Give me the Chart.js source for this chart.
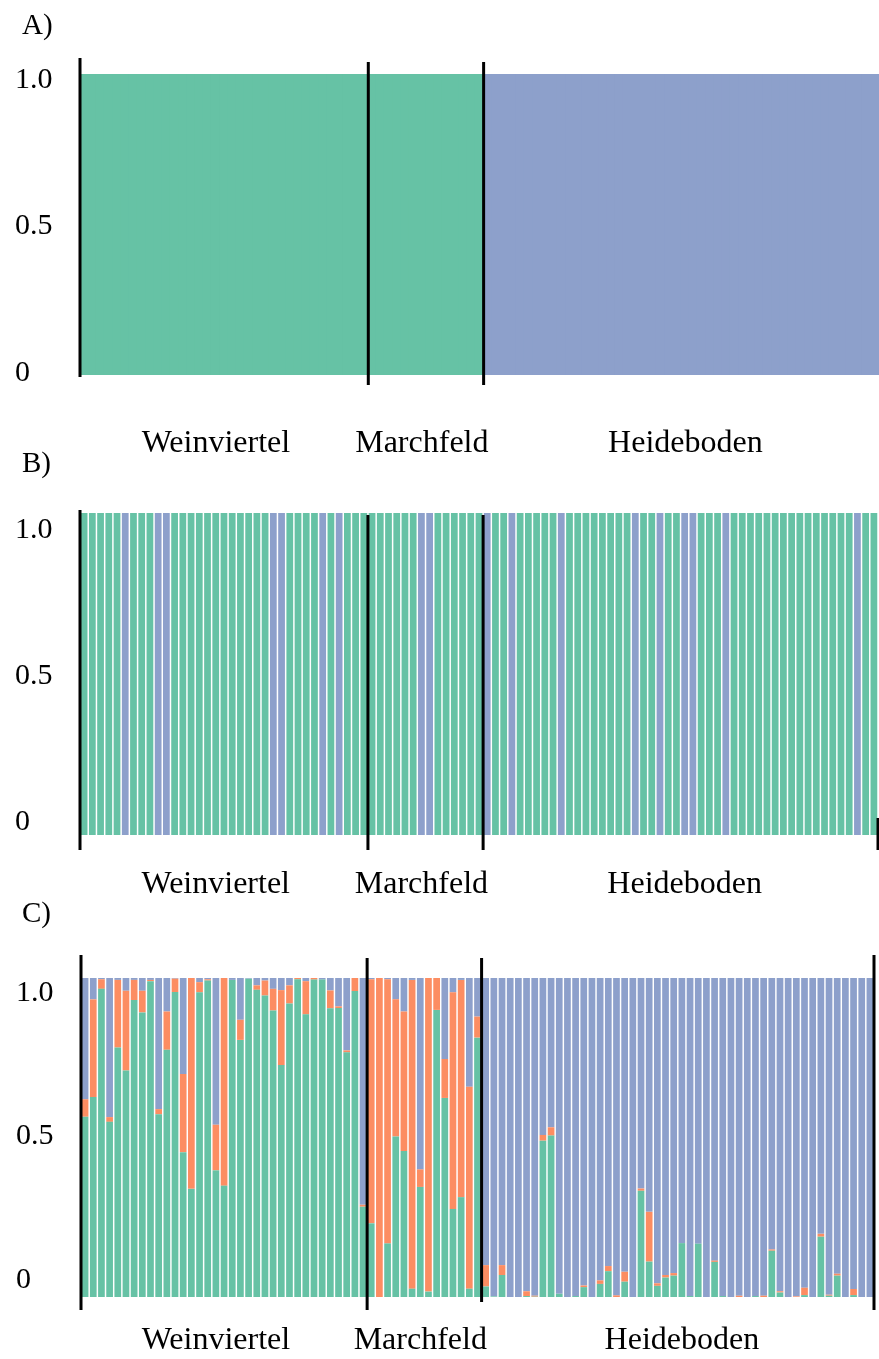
<!DOCTYPE html>
<html>
<head>
<meta charset="utf-8">
<script src="https://cdn.jsdelivr.net/npm/chart.js@4.4.0/dist/chart.umd.min.js"></script>
<style>
  body { margin: 0; background: #fff; width: 879px; height: 1359px; position: relative; overflow: hidden; font-family: "Liberation Serif", serif; }
  .panel { position: absolute; left: 0; }
  .tag { position: absolute; left: 22px; font-size: 29px; line-height: 1; z-index: 2; }
</style>
</head>
<body>
<div class="tag" style="top:10px">A)</div>
<div class="tag" style="top:448px">B)</div>
<div class="tag" style="top:898px">C)</div>
<div class="panel" style="top:0"><canvas id="chartA" width="879" height="470"></canvas></div>
<div class="panel" style="top:470px"><canvas id="chartB" width="879" height="440"></canvas></div>
<div class="panel" style="top:910px"><canvas id="chartC" width="879" height="449"></canvas></div>
<script>
// populations and how many individuals each has
const groups = ["Weinviertel", "Marchfeld", "Heideboden"];
const groupSizes = [35, 14, 48];
const groupLabelAt = [16, 41, 73];   // which bar carries the group name
const yTicks = [0, 0.5, 1];

// A) K=2, population level
const aGreen = [
  1,1,1,1,1,1,1,1,1,1,1,1,1,1,1,1,1,1,1,1,1,1,1,1,1,1,1,1,1,1,1,1,1,1,1,
  1,1,1,1,1,1,1,1,1,1,1,1,1,1,
  0,0,0,0,0,0,0,0,0,0,0,0,0,0,0,0,0,0,0,0,0,0,0,0,0,0,0,0,0,0,0,0,0,0,0,0,0,0,0,0,0,0,0,0,0,0,0,0
];
const aBlue = [
  0,0,0,0,0,0,0,0,0,0,0,0,0,0,0,0,0,0,0,0,0,0,0,0,0,0,0,0,0,0,0,0,0,0,0,
  0,0,0,0,0,0,0,0,0,0,0,0,0,0,
  1,1,1,1,1,1,1,1,1,1,1,1,1,1,1,1,1,1,1,1,1,1,1,1,1,1,1,1,1,1,1,1,1,1,1,1,1,1,1,1,1,1,1,1,1,1,1,1
];

// B) K=2, individuals
const bGreen = [
  1,1,1,1,1,0,1,1,1,0,0,1,1,1,1,1,1,1,1,1,1,1,1,0,0,1,1,1,1,0,1,0,1,1,1,
  1,1,1,1,1,1,0,0,1,1,1,1,1,1,
  0,1,1,0,1,1,1,1,1,0,1,1,1,1,1,1,1,1,0,1,1,0,1,1,0,0,1,1,1,0,1,1,1,1,1,1,1,1,1,1,1,1,1,1,1,0,1,1
];
const bBlue = [
  0,0,0,0,0,1,0,0,0,1,1,0,0,0,0,0,0,0,0,0,0,0,0,1,1,0,0,0,0,1,0,1,0,0,0,
  0,0,0,0,0,0,1,1,0,0,0,0,0,0,
  1,0,0,1,0,0,0,0,0,1,0,0,0,0,0,0,0,0,1,0,0,1,0,0,1,1,0,0,0,1,0,0,0,0,0,0,0,0,0,0,0,0,0,0,0,1,0,0
];

// C) K=3, individuals
const cGreen = [
  .565,.627,.966,.549,.782,.710,.931,.892,.990,.573,.775,.956,.454,.339,.955,.992,.397,.349,
  .994,.806,.998,.963,.945,.898,.727,.920,.996,.886,.995,.995,.905,.906,.767,.959,.283,
  .231,0,.168,.503,.458,.026,.345,.017,.900,.624,.276,.313,.026,.813,
  .033,.002,.069,0,0,.003,.001,.490,.506,.010,0,.003,.031,0,.041,.081,
  0,.048,0,.333,.111,.035,.061,.067,.169,.003,.167,0,.110,.003,0,0,
  0,.003,0,.145,.014,0,0,.006,0,.189,.004,.067,0,.006,0,0
];
const cOrange = [
  .055,.306,.030,.015,.212,.250,.063,.068,.004,.016,.120,.042,.245,.661,.032,.004,.143,.651,
  0,.063,0,.014,.047,.068,.235,.057,.004,.104,.005,0,.056,.005,.006,.041,.006,
  .765,1,.828,.430,.437,.968,.055,.983,.100,.122,.679,.681,.633,.066,
  .067,0,.031,0,0,.015,.003,.018,.026,0,0,0,.005,0,.011,.016,
  .005,.031,0,.007,.156,.008,.008,.008,0,0,0,0,.004,0,0,.004,
  0,0,.004,.004,.004,0,.002,.023,0,.009,.003,.006,0,.019,0,0
];
const cBlue = [
  .380,.067,.004,.436,.006,.040,.006,.040,.006,.411,.105,.002,.301,0,.013,.004,.460,0,
  .006,.131,.002,.023,.008,.034,.038,.023,0,.010,0,.005,.039,.089,.227,0,.711,
  .004,0,.004,.067,.105,.006,.600,0,0,.254,.045,.006,.341,.121,
  .900,.998,.900,1,1,.982,.996,.492,.468,.990,1,.997,.964,1,.948,.903,
  .995,.921,1,.660,.733,.957,.931,.925,.831,.997,.833,1,.886,.997,1,.996,
  1,.997,.996,.851,.982,1,.998,.971,1,.802,.993,.927,1,.975,1,1
];

const GREEN = "#66c2a5", ORANGE = "#fc8d62", BLUE = "#8da0cb";

const samples = [];
groups.forEach((g, gi) => {
  for (let i = 1; i <= groupSizes[gi]; i++) samples.push(g + " " + i);
});
const bounds = [0];
groupSizes.forEach(n => bounds.push(bounds[bounds.length - 1] + n));

Chart.defaults.font.family = "'Liberation Serif', 'DejaVu Serif', serif";
Chart.defaults.color = "#000";

// black population dividers, placed between bars via the x scale
const dividers = {
  id: "dividers",
  afterDatasetsDraw(chart, args, opts) {
    const { ctx, chartArea } = chart;
    const x = chart.scales.x;
    const half = (x.getPixelForValue(1) - x.getPixelForValue(0)) / 2;
    ctx.save();
    ctx.strokeStyle = "#000";
    ctx.lineWidth = 3;
    opts.lines.forEach(l => {
      const px = x.getPixelForValue(bounds[l.b]) - half;
      ctx.beginPath();
      ctx.moveTo(px, chartArea.top - l.above);
      ctx.lineTo(px, chartArea.bottom + l.below);
      ctx.stroke();
    });
    ctx.restore();
  }
};

function makeChart(id, datasets, p) {
  return new Chart(document.getElementById(id), {
    type: "bar",
    data: { labels: samples, datasets: datasets },
    options: {
      responsive: false,
      animation: false,
      layout: { padding: { left: p.left, right: p.right, top: p.top, bottom: 0 } },
      datasets: { bar: { categoryPercentage: 1, barPercentage: p.barPct, borderWidth: 0 } },
      plugins: { legend: { display: false }, tooltip: { enabled: false }, dividers: { lines: p.lines } },
      scales: {
        x: {
          stacked: true,
          grid: { display: false, drawTicks: false },
          border: { display: false },
          afterFit: s => { s.height = p.xHeight; s.paddingLeft = 0; s.paddingRight = 0; },
          ticks: {
            autoSkip: false, maxRotation: 0, minRotation: 0,
            padding: p.xPad,
            font: { size: 32 },
            callback: (v, i) => {
              const k = groupLabelAt.indexOf(i);
              return k >= 0 ? groups[k] : "";
            }
          }
        },
        y: { stacked: true, min: 0, max: 1, display: false },
        yl: {
          position: "left",
          min: p.labMin, max: p.labMax,
          grid: { display: false, drawTicks: false },
          border: { display: false },
          afterFit: s => { s.width = 65; },
          afterBuildTicks: s => { s.ticks = yTicks.map(v => ({ value: v })); },
          ticks: {
            crossAlign: "far",
            font: { size: 30 },
            callback: v => (v === 0 ? "0" : v.toFixed(1))
          }
        }
      }
    },
    plugins: [dividers]
  });
}

makeChart("chartA", [
  { data: aGreen, backgroundColor: GREEN },
  { data: aBlue, backgroundColor: BLUE }
], {
  left: 15, right: 0, top: 74, xHeight: 95, xPad: 49, barPct: 1.2,
  labMin: -0.007, labMax: 1.02,
  lines: [{ b: 0, above: 16, below: 2 }, { b: 1, above: 12, below: 10 }, { b: 2, above: 12, below: 10 }]
});

makeChart("chartB", [
  { data: bGreen, backgroundColor: GREEN },
  { data: bBlue, backgroundColor: BLUE }
], {
  left: 15, right: 1, top: 43, xHeight: 75, xPad: 30, barPct: 0.82,
  labMin: -0.0445, labMax: 1.058,
  lines: [{ b: 0, above: 3, below: 15 }, { b: 1, above: -2, below: 15 }, { b: 2, above: -2, below: 15 }, { b: 3, above: -305, below: 15 }]
});

makeChart("chartC", [
  { data: cGreen, backgroundColor: GREEN },
  { data: cOrange, backgroundColor: ORANGE },
  { data: cBlue, backgroundColor: BLUE }
], {
  left: 16, right: 5, top: 68, xHeight: 62, xPad: 24, barPct: 0.82,
  labMin: -0.0592, labMax: 1.0523,
  lines: [{ b: 0, above: 23, below: 13 }, { b: 1, above: 20, below: 13 }, { b: 2, above: 20, below: 5 }, { b: 3, above: 23, below: 13 }]
});
</script>
</body>
</html>
